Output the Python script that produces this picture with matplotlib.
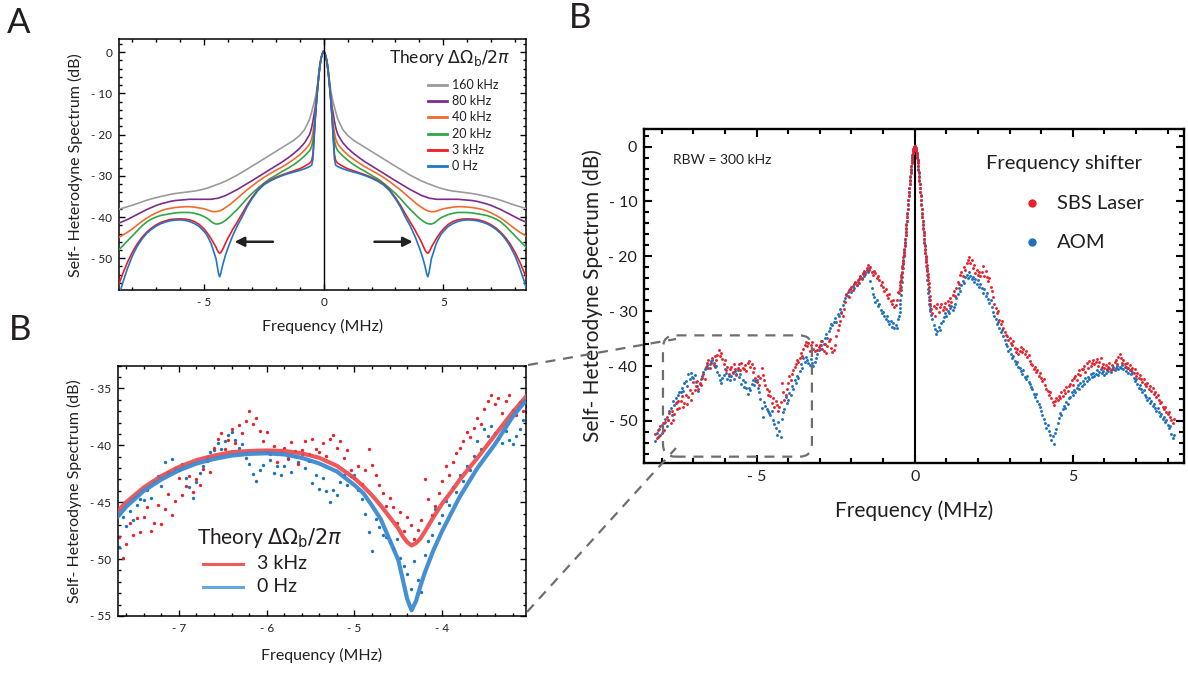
import numpy as np
import matplotlib
matplotlib.use("Agg")
import matplotlib.pyplot as plt
from matplotlib.ticker import MultipleLocator, FuncFormatter
from matplotlib.patches import FancyBboxPatch
from matplotlib.lines import Line2D

plt.rcParams['font.family'] = ['Lato', 'DejaVu Sans']
plt.rcParams['mathtext.fontset'] = 'dejavusans'

# ---------------- Theory curves (half spectrum, symmetric) ----------------
theory_freq_half = [0, 0.05, 0.1, 0.15, 0.2, 0.25, 0.3, 0.35, 0.4, 0.45, 0.5, 0.55, 0.6,
                    0.8, 1.0, 1.25, 1.5, 1.75, 2.0, 2.25, 2.5, 2.75, 3.0, 3.2, 3.4, 3.6, 3.8,
                    3.9, 4.0, 4.1, 4.2, 4.25, 4.3, 4.35, 4.4, 4.45, 4.5, 4.6, 4.7, 4.8, 4.9,
                    5.0, 5.2, 5.4, 5.6, 5.8, 6.0, 6.2, 6.4, 6.6, 6.8, 7.0, 7.2, 7.4, 7.6,
                    7.8, 8.0, 8.2, 8.4, 8.6]
theory_0Hz = [0.3, -0.3, -1.3, -3.0, -5.5, -8.5, -12.0, -16.0, -21.0, -26.0, -27.4, -27.6, -27.8,
              -28.3, -28.7, -29.1, -29.5, -30.0, -30.6, -31.3, -32.2, -33.6, -35.6, -37.5, -39.9,
              -42.0, -44.5, -46.0, -47.5, -49.2, -51.2, -52.4, -53.7, -54.5, -53.5, -51.8, -50.1,
              -48.3, -46.5, -45.3, -44.2, -43.5, -42.3, -41.6, -41.1, -40.8, -40.7, -40.75, -40.9,
              -41.2, -41.6, -42.2, -43.0, -44.0, -45.4, -47.2, -49.5, -52.5, -56.0, -60.0]
theory_3kHz = [0.3, -0.3, -1.3, -3.0, -5.5, -8.5, -12.0, -16.0, -20.5, -24.8, -26.3, -26.7, -27.0,
               -27.7, -28.3, -28.8, -29.3, -29.8, -30.4, -31.1, -32.0, -33.4, -35.3, -37.1, -39.1,
               -41.1, -43.0, -44.1, -45.1, -46.3, -47.6, -48.2, -48.6, -48.8, -48.5, -48.0, -47.3,
               -46.3, -45.3, -44.4, -43.6, -42.9, -41.8, -41.1, -40.7, -40.5, -40.45, -40.5, -40.6,
               -40.9, -41.3, -41.9, -42.7, -43.7, -45.0, -46.6, -48.6, -51.0, -53.8, -57.0]
theory_20kHz = [0.3, -0.3, -1.3, -3.0, -5.5, -8.4, -11.8, -15.5, -19.0, -21.5, -22.8, -23.5, -24.0,
                -25.2, -26.2, -27.3, -28.2, -29.0, -29.9, -30.7, -31.8, -33.0, -34.3, -35.5, -36.8,
                -38.1, -39.2, -39.8, -40.3, -40.8, -41.2, -41.35, -41.5, -41.6, -41.65, -41.7, -41.7,
                -41.5, -41.1, -40.6, -40.2, -39.9, -39.4, -39.1, -38.9, -38.9, -38.9, -39.0, -39.2,
                -39.4, -39.6, -40.0, -40.5, -41.2, -42.2, -43.4, -44.6, -45.8, -47.0, -48.2]
theory_40kHz = [0.3, -0.3, -1.3, -3.0, -5.4, -8.3, -11.6, -14.8, -17.5, -19.5, -21.0, -21.8, -22.4,
                -23.8, -24.9, -26.0, -27.0, -27.9, -28.7, -29.5, -30.4, -31.4, -32.5, -33.4, -34.4,
                -35.4, -36.4, -36.9, -37.3, -37.7, -38.1, -38.25, -38.4, -38.5, -38.6, -38.65, -38.7,
                -38.7, -38.6, -38.4, -38.2, -38.0, -37.8, -37.6, -37.5, -37.5, -37.6, -37.7, -37.9,
                -38.1, -38.5, -39.0, -39.6, -40.3, -41.1, -42.0, -42.9, -43.7, -44.4, -45.1]
theory_80kHz = [0.3, -0.3, -1.3, -2.9, -5.2, -8.0, -11.0, -13.3, -15.0, -16.8, -18.2, -19.3, -20.1,
                -22.0, -23.3, -24.6, -25.7, -26.7, -27.6, -28.5, -29.4, -30.3, -31.2, -31.9, -32.6,
                -33.3, -33.9, -34.2, -34.5, -34.8, -35.0, -35.1, -35.2, -35.3, -35.4, -35.5, -35.5,
                -35.6, -35.7, -35.7, -35.7, -35.7, -35.7, -35.7, -35.7, -35.8, -35.9, -36.0, -36.2,
                -36.5, -36.8, -37.2, -37.7, -38.2, -38.8, -39.4, -40.0, -40.6, -41.1, -41.6]
theory_160kHz = [0.3, -0.3, -1.2, -2.7, -4.6, -7.5, -9.5, -11.0, -12.3, -13.3, -14.5, -15.5, -16.4,
                 -18.8, -20.2, -21.4, -22.3, -23.2, -24.1, -25.0, -25.9, -26.8, -27.7, -28.4, -29.1,
                 -29.8, -30.4, -30.7, -31.0, -31.3, -31.5, -31.65, -31.8, -31.9, -32.0, -32.1, -32.2,
                 -32.45, -32.65, -32.85, -33.05, -33.2, -33.5, -33.7, -33.85, -34.0, -34.15, -34.3,
                 -34.5, -34.75, -35.0, -35.3, -35.6, -35.95, -36.35, -36.75, -37.15, -37.5, -37.85,
                 -38.2]
theory_labels = ['160 kHz', '80 kHz', '40 kHz', '20 kHz', '3 kHz', '0 Hz']

# ---------------- Measured spectra ----------------
# left wing sampled every 0.04 MHz from -8.20 MHz
sbs_left = [
    -52.3, -53.1, -51.6, -52.8, -51.0, -52.2, -50.4, -51.7, -50.2, -49.3,
    -49.8, -48.6, -50.4, -48.1, -49.9, -48.7, -46.8, -47.9, -46.4, -47.6,
    -46.3, -45.4, -47.5, -46.8, -45.2, -46.9, -45.6, -44.3, -46.1, -44.9,
    -42.9, -44.4, -43.6, -42.7, -44.1, -43.0, -43.5, -42.1, -41.4, -42.3,
    -40.2, -39.4, -38.9, -40.3, -39.5, -38.6, -39.8, -38.2, -38.9, -37.9,
    -37.0, -38.1, -37.6, -38.7, -39.6, -38.8, -40.8, -40.1, -41.5, -40.6,
    -40.2, -41.1, -39.7, -40.5, -41.6, -40.4, -39.6, -40.8, -39.4, -40.3,
    -40.6, -39.8, -40.9, -39.4, -39.1, -40.2, -39.6, -41.1, -40.4, -42.2,
    -42.9, -41.8, -43.4, -42.2, -40.3, -41.7, -42.6, -43.5, -44.2, -45.3,
    -44.6, -45.4, -46.8, -45.9, -47.5, -46.3, -47.0, -48.2, -47.4, -46.6,
    -43.0, -44.7, -46.1, -45.3, -44.2, -43.1, -41.8, -42.6, -41.5, -40.7,
    -40.2, -39.6, -38.8, -39.3, -38.5, -37.6, -38.1, -36.8, -36.1, -35.6,
    -36.4, -35.8, -37.2, -36.1, -35.6, -36.9, -37.3, -36.2, -37.0, -36.5,
    -36.2, -35.4, -36.8, -37.3, -36.0, -37.6, -36.4, -35.5, -35.1, -36.7,
    -37.4, -37.0, -36.2, -34.5, -33.4, -32.6, -31.8, -30.4, -30.9, -29.6,
    -28.3, -27.1, -26.5, -27.4, -26.0, -25.6, -26.2, -25.1, -24.7, -25.3,
    -24.6, -24.1, -23.5, -24.2, -23.0, -22.6, -23.3, -22.1, -21.6, -22.4,
    -22.0, -22.8, -23.4, -22.6, -23.1, -24.0, -23.5, -24.4, -25.2, -24.7,
    -25.6, -26.4, -25.9, -27.0, -27.6, -26.8, -28.1, -28.7, -27.9, -29.2,
    -28.8, -28.0, -26.5,
]
aom_left = [
    -53.6, -52.2, -53.0, -51.4, -52.5, -50.8, -51.9, -50.3, -49.6, -50.9,
    -49.9, -48.2, -47.6, -48.9, -46.3, -47.1, -45.8, -46.6, -45.2, -44.7,
    -44.8, -43.9, -44.6, -43.1, -42.7, -43.6, -41.5, -42.3, -41.2, -42.0,
    -42.2, -41.6, -42.9, -43.7, -44.6, -43.2, -42.4, -41.8, -41.0, -40.6,
    -40.4, -39.8, -40.3, -39.6, -39.1, -38.8, -39.5, -40.2, -39.9, -41.1,
    -41.6, -42.5, -43.1, -42.2, -41.7, -40.6, -41.3, -42.4, -41.8, -42.6,
    -41.8, -41.2, -42.3, -40.9, -41.5, -40.8, -42.0, -41.4, -43.3, -42.6,
    -43.8, -42.9, -44.0, -45.0, -43.9, -44.4, -43.2, -42.6, -43.5, -42.7,
    -42.6, -43.9, -44.7, -46.0, -47.6, -49.3, -46.5, -47.2, -47.9, -48.1,
    -48.5, -49.0, -48.2, -49.9, -50.6, -51.3, -52.6, -50.2, -51.8, -52.9,
    -49.6, -48.4, -47.9, -45.6, -46.8, -46.1, -44.9, -45.2, -43.7, -44.1,
    -42.6, -43.1, -41.8, -42.2, -40.9, -39.6, -40.3, -38.6, -39.2, -38.3,
    -38.9, -39.4, -39.8, -38.7, -39.5, -39.9, -39.2, -38.6, -37.8, -37.1,
    -36.8, -36.1, -35.4, -35.9, -34.8, -34.2, -34.9, -33.6, -33.0, -32.4,
    -32.6, -31.9, -31.2, -32.0, -30.5, -30.8, -29.6, -30.1, -28.9, -28.2,
    -27.6, -26.8, -27.3, -26.2, -25.9, -26.5, -25.4, -25.8, -24.9, -25.2,
    -24.3, -24.8, -23.7, -23.9, -23.2, -23.6, -22.8, -22.4, -22.9, -22.2,
    -24.5, -25.8, -26.9, -27.5, -28.3, -28.0, -29.1, -28.6, -29.8, -30.4,
    -30.2, -30.8, -31.5, -30.9, -31.8, -32.4, -31.7, -32.9, -32.2, -33.0,
    -32.6, -33.1, -31.5,
]
# central peak sampled every 0.01 MHz from -0.49 MHz
sbs_core = [
    -26.6, -26.1, -25.7, -25.2, -24.7, -24.4, -23.8, -23.4, -22.9, -22.2,
    -21.8, -21.3, -20.8, -20.2, -19.7, -19.4, -18.8, -18.1, -17.5, -16.9,
    -16.2, -15.6, -15.0, -14.3, -13.6, -12.9, -12.2, -11.4, -10.6, -9.8,
    -9.0, -8.3, -7.6, -6.9, -6.2, -5.5, -4.8, -4.2, -3.6, -3.0,
    -2.5, -2.0, -1.6, -1.2, -0.8, -0.5, -0.3, -0.1, 0.0,
    0.1,
    0.0, -0.1, -0.3, -0.5, -0.8, -1.2, -1.6, -2.0, -2.5,
    -3.0, -3.6, -4.2, -4.8, -5.5, -6.2, -6.9, -7.6, -8.3, -9.0,
    -9.8, -10.6, -11.4, -12.2, -12.9, -13.6, -14.3, -15.0, -15.6, -16.2,
    -16.9, -17.5, -18.1, -18.8, -19.4, -19.9, -20.5, -21.0, -21.6, -22.1,
    -22.6, -23.2, -23.7, -24.3, -24.9, -25.6, -26.4, -27.2, -28.0, -28.7,
]
aom_core = [
    -30.8, -30.1, -29.5, -28.6, -27.9, -27.0, -26.2, -25.5, -24.6, -23.8,
    -23.0, -22.2, -21.4, -20.6, -19.9, -19.3, -18.6, -18.0, -17.4, -16.8,
    -16.1, -15.5, -14.9, -14.2, -13.5, -12.8, -12.1, -11.3, -10.5, -9.7,
    -8.9, -8.2, -7.5, -6.8, -6.1, -5.4, -4.7, -4.1, -3.5, -2.9,
    -2.4, -1.9, -1.5, -1.1, -0.7, -0.4, -0.2, -0.1, 0.0,
    0.1,
    0.0, -0.1, -0.2, -0.4, -0.7, -1.1, -1.5, -1.9, -2.4,
    -2.9, -3.5, -4.1, -4.7, -5.4, -6.1, -6.8, -7.5, -8.2, -8.9,
    -9.7, -10.5, -11.3, -12.1, -12.8, -13.5, -14.2, -14.9, -15.5, -16.1,
    -16.8, -17.4, -18.0, -18.7, -19.4, -20.1, -20.9, -21.7, -22.5, -23.4,
    -24.3, -25.1, -25.9, -26.7, -27.4, -28.0, -28.6, -29.1, -29.6, -30.0,
]
# right wing sampled every 0.04 MHz from +0.52 MHz
sbs_right = [
    -29.6, -30.4, -29.1, -30.8, -29.5, -28.7, -30.1, -29.3, -28.6, -29.8,
    -29.2, -28.5, -29.6, -28.1, -28.8, -27.6, -28.3, -27.0, -26.4, -27.3,
    -25.8, -24.6, -25.1, -23.4, -22.8, -23.6, -21.9, -22.4, -21.2, -20.6,
    -20.1, -21.3, -20.7, -22.2, -21.6, -23.1, -22.5, -23.4, -22.8, -23.6,
    -22.9, -21.8, -23.5, -22.6, -23.8, -24.5, -23.9, -25.6, -26.4, -27.5,
    -28.6, -29.5, -30.4, -30.0, -31.6, -32.3, -31.8, -33.1, -33.7, -34.4,
    -34.6, -35.3, -34.9, -35.8, -36.1, -35.5, -36.7, -37.4, -36.9, -37.8,
    -37.2, -36.6, -37.5, -36.9, -37.8, -37.3, -38.4, -38.0, -39.1, -39.6,
    -39.8, -40.6, -40.2, -41.1, -40.7, -41.8, -41.3, -42.2, -42.8, -42.3,
    -43.4, -44.1, -44.6, -45.3, -44.8, -45.9, -46.5, -47.1, -46.4, -45.8,
    -46.2, -45.5, -45.9, -44.8, -45.4, -44.3, -44.9, -43.8, -44.5, -43.6,
    -43.2, -42.6, -43.5, -42.1, -41.8, -42.5, -41.4, -40.8, -41.6, -40.5,
    -40.6, -40.0, -41.1, -39.5, -40.3, -39.1, -40.0, -39.4, -38.8, -39.7,
    -39.3, -38.7, -39.9, -39.2, -38.5, -40.1, -39.6, -40.4, -39.8, -40.6,
    -40.2, -39.5, -40.8, -39.8, -40.5, -39.3, -38.9, -39.6, -38.4, -37.8,
    -38.6, -39.4, -38.9, -39.7, -40.2, -39.5, -40.4, -39.8, -40.7, -40.3,
    -41.2, -40.6, -41.8, -41.3, -42.1, -41.6, -42.4, -42.9, -42.3, -43.2,
    -43.6, -43.0, -44.1, -43.7, -44.5, -44.0, -45.1, -44.7, -45.6, -45.3,
    -46.2, -46.8, -46.5, -47.4, -47.9, -47.5, -48.3, -48.8, -48.4, -49.3,
    -49.8, -50.3, -49.6,
]
aom_right = [
    -30.6, -31.4, -32.5, -33.3, -34.2, -33.6, -32.8, -33.5, -32.1, -31.7,
    -31.0, -30.3, -30.8, -29.9, -30.4, -29.5, -29.0, -29.8, -29.2, -28.6,
    -27.6, -26.9, -25.8, -26.3, -25.2, -24.5, -24.9, -23.8, -23.4, -24.0,
    -22.9, -23.5, -24.2, -23.7, -24.6, -24.1, -25.0, -24.4, -25.5, -25.1,
    -25.8, -26.6, -26.0, -27.2, -26.7, -27.8, -28.5, -28.0, -29.3, -30.1,
    -30.8, -31.5, -32.4, -31.9, -33.1, -33.8, -33.4, -34.6, -35.2, -35.9,
    -36.4, -37.2, -36.9, -37.8, -38.5, -38.1, -39.0, -39.6, -39.2, -40.1,
    -40.3, -40.9, -41.5, -40.8, -41.9, -42.4, -41.8, -42.9, -43.3, -43.8,
    -44.2, -45.1, -45.6, -45.0, -46.3, -46.9, -47.5, -48.2, -48.9, -49.6,
    -50.3, -51.2, -50.7, -51.9, -52.6, -53.4, -52.8, -54.2, -52.1, -51.4,
    -50.4, -49.5, -48.6, -49.0, -47.8, -47.2, -47.7, -46.5, -46.9, -45.8,
    -45.6, -44.8, -45.2, -44.3, -44.7, -43.9, -43.5, -44.2, -43.1, -43.6,
    -42.8, -43.3, -42.2, -42.7, -41.9, -42.4, -41.5, -42.0, -41.3, -41.8,
    -41.4, -40.8, -41.6, -41.1, -40.6, -41.3, -40.9, -41.7, -41.2, -40.7,
    -40.9, -40.3, -41.0, -40.5, -40.1, -40.8, -40.4, -39.9, -40.6, -40.2,
    -40.4, -39.8, -40.6, -40.1, -40.9, -40.3, -41.2, -40.7, -41.5, -41.0,
    -42.1, -42.8, -42.4, -43.3, -43.9, -43.5, -44.2, -44.8, -44.4, -45.3,
    -45.6, -46.2, -45.8, -46.7, -46.3, -47.2, -46.9, -47.6, -48.1, -47.7,
    -48.4, -49.1, -48.7, -49.6, -49.3, -50.2, -49.8, -50.7, -51.3, -50.9,
    -52.4, -53.1, -52.6,
]
left_start, right_start, wing_step = -8.20, 0.52, 0.04
core_start, core_step = -0.49, 0.01

# ---------------- helpers ----------------
def full_theory(vals):
    fh = np.asarray(theory_freq_half)
    v = np.asarray(vals)
    return np.concatenate([-fh[::-1], fh[1:]]), np.concatenate([v[::-1], v[1:]])

def series(left, core, right):
    fl = left_start + wing_step * np.arange(len(left))
    fc = core_start + core_step * np.arange(len(core))
    fr = right_start + wing_step * np.arange(len(right))
    return np.concatenate([fl, fc, fr]), np.concatenate([left, core, right])

def dash_fmt(v, pos):
    if abs(v) < 1e-9:
        return '0'
    return ('- %g' % -v) if v < 0 else ('%g' % v)

TXT = '#231f20'

def style(ax, lw, maj, mino, lsize, xmaj, xmin, ymaj, ymin):
    for s in ax.spines.values():
        s.set_linewidth(lw)
    ax.xaxis.set_major_locator(MultipleLocator(xmaj))
    ax.xaxis.set_minor_locator(MultipleLocator(xmin))
    ax.yaxis.set_major_locator(MultipleLocator(ymaj))
    ax.yaxis.set_minor_locator(MultipleLocator(ymin))
    ax.xaxis.set_major_formatter(FuncFormatter(dash_fmt))
    ax.yaxis.set_major_formatter(FuncFormatter(dash_fmt))
    ax.tick_params(which='both', direction='in', top=True, right=True,
                   width=lw * 0.9, colors='black', labelcolor=TXT)
    ax.tick_params(which='major', length=maj, labelsize=lsize, pad=5)
    ax.tick_params(which='minor', length=mino)

W, H = 1188, 675
fig = plt.figure(figsize=(W / 100, H / 100), dpi=100)

def px_axes(l, t, r, b):
    return fig.add_axes([l / W, 1 - b / H, (r - l) / W, (b - t) / H])

theory_colors = ['#9b9b9b', '#7b2c8c', '#f26a2e', '#2fa544', '#ec1c24', '#1f76c3']
theory_sets = [theory_160kHz, theory_80kHz, theory_40kHz, theory_20kHz, theory_3kHz, theory_0Hz]

# ================= Panel A =================
axA = px_axes(119.3, 39.3, 525.7, 290)
for vals, col in zip(theory_sets, theory_colors):
    f, v = full_theory(vals)
    axA.plot(f, v, color=col, lw=1.2, zorder=3)
axA.axvline(0, color='black', lw=1.0, zorder=4)
axA.set_xlim(-8.54, 8.44)
axA.set_ylim(-57.7, 3.1)
style(axA, 1.1, 4.5, 2.5, 8.5, 5, 1, 10, 2)
axA.set_xlabel('Frequency (MHz)', fontsize=11.5, color=TXT, labelpad=8)
axA.set_ylabel('Self- Heterodyne Spectrum (dB)', fontsize=11.5, color=TXT, labelpad=6)
axA.text(0.962, 0.925, r'Theory $\Delta\Omega_{\mathrm{b}}/2\pi$', transform=axA.transAxes,
         ha='right', va='center', fontsize=12.5, color=TXT)
for i, (lab, col) in enumerate(zip(theory_labels, theory_colors)):
    yy = 0.818 - i * 0.0646
    axA.plot([0.759, 0.806], [yy, yy], color=col, lw=2.0, transform=axA.transAxes)
    axA.text(0.818, yy, lab, transform=axA.transAxes, ha='left', va='center',
             fontsize=9, color=TXT)
arrow_y = -46
for x0, x1 in [(-2.12, -3.72), (2.12, 3.72)]:
    axA.annotate('', xy=(x1, arrow_y), xytext=(x0, arrow_y),
                 arrowprops=dict(arrowstyle='-|>', color='#222222', lw=1.8,
                                 mutation_scale=14, shrinkA=0, shrinkB=0))

# ================= Panel B (zoom) =================
sbs_f, sbs_db = series(sbs_left, sbs_core, sbs_right)
aom_f, aom_db = series(aom_left, aom_core, aom_right)

axB = px_axes(118.3, 365.7, 525.7, 616)
axB.plot(aom_f, aom_db, 'o', ms=2.4, mew=0, color='#1d72bd', zorder=2)
axB.plot(sbs_f, sbs_db, 'o', ms=2.4, mew=0, color='#e8212b', zorder=2)
f3, v3 = full_theory(theory_3kHz)
f0, v0 = full_theory(theory_0Hz)
axB.plot(f3, v3, color='#ee4a4d', lw=3.0, alpha=0.92, zorder=3, solid_capstyle='round')
axB.plot(f0, v0, color='#3a8ad0', lw=3.0, alpha=0.95, zorder=4, solid_capstyle='round')
axB.set_xlim(-7.69, -3.05)
axB.set_ylim(-55, -33)
style(axB, 1.1, 4.5, 2.5, 8.5, 1, 0.2, 5, 1)
axB.set_xlabel('Frequency (MHz)', fontsize=11.5, color=TXT, labelpad=10)
axB.set_ylabel('Self- Heterodyne Spectrum (dB)', fontsize=11.5, color=TXT, labelpad=6)
axB.text(0.372, 0.312, r'Theory $\Delta\Omega_{\mathrm{b}}/2\pi$', transform=axB.transAxes,
         ha='center', va='center', fontsize=15, color=TXT)
for yy, lab, col in [(0.208, '3 kHz', '#f05a5a'), (0.116, '0 Hz', '#62a8df')]:
    axB.plot([0.208, 0.307], [yy, yy], color=col, lw=2.2, transform=axB.transAxes)
    axB.text(0.34, yy, lab, transform=axB.transAxes, ha='left', va='center',
             fontsize=14, color=TXT)

# ================= Panel C (full measured) =================
axC = px_axes(644.3, 129, 1183.5, 462.7)
axC.plot(aom_f, aom_db, 'o', ms=2.1, mew=0, color='#1d72bd', zorder=2)
axC.plot(sbs_f, sbs_db, 'o', ms=2.1, mew=0, color='#e8212b', zorder=3)
axC.axvline(0, color='black', lw=1.5, zorder=1)
axC.set_xlim(-8.55, 8.5)
axC.set_ylim(-57.6, 3.2)
style(axC, 1.7, 5.5, 3.5, 11.5, 5, 1, 10, 2)
axC.set_xlabel('Frequency (MHz)', fontsize=15, color=TXT, labelpad=12)
axC.set_ylabel('Self- Heterodyne Spectrum (dB)', fontsize=15, color=TXT, labelpad=4)
axC.text(0.053, 0.906, 'RBW = 300 kHz', transform=axC.transAxes, ha='left', va='center',
         fontsize=10, color=TXT)
axC.text(0.778, 0.898, 'Frequency shifter', transform=axC.transAxes, ha='center',
         va='center', fontsize=14.5, color=TXT)
for yy, lab, col in [(0.778, 'SBS Laser', '#e8212b'), (0.661, 'AOM', '#1d72bd')]:
    axC.plot([0.719], [yy], 'o', ms=6, mew=0, color=col, transform=axC.transAxes)
    axC.text(0.765, yy, lab, transform=axC.transAxes, ha='left', va='center',
             fontsize=14.5, color=TXT)

# dashed zoom box (rounded) and connectors
box_x0, box_x1, box_y0, box_y1 = -7.96, -3.25, -56.5, -34.4
asp = (31.67 / 5.47)
box = FancyBboxPatch((box_x0, box_y0), box_x1 - box_x0, box_y1 - box_y0,
                     boxstyle='round,pad=0,rounding_size=0.4', mutation_aspect=asp,
                     fill=False, ec='#6d6e70', lw=1.6, ls=(0, (4.5, 3.5)),
                     transform=axC.transData, zorder=5, clip_on=False)
axC.add_patch(box)
for (xa, ya), (xb, yb) in [((528, 365), (676, 339)), ((527, 612), (676, 448))]:
    fig.add_artist(Line2D([xa / W, xb / W], [1 - ya / H, 1 - yb / H],
                          transform=fig.transFigure, color='#6d6e70', lw=1.6,
                          ls=(0, (4.5, 3.5))))

# panel letters
fig.text(7 / W, 1 - 7 / H, 'A', fontsize=25, va='top', ha='left', color=TXT)
fig.text(9 / W, 1 - 314 / H, 'B', fontsize=25, va='top', ha='left', color=TXT)
fig.text(569 / W, 1 - 2 / H, 'B', fontsize=25, va='top', ha='left', color=TXT)

fig.savefig('out.png', dpi=100)
